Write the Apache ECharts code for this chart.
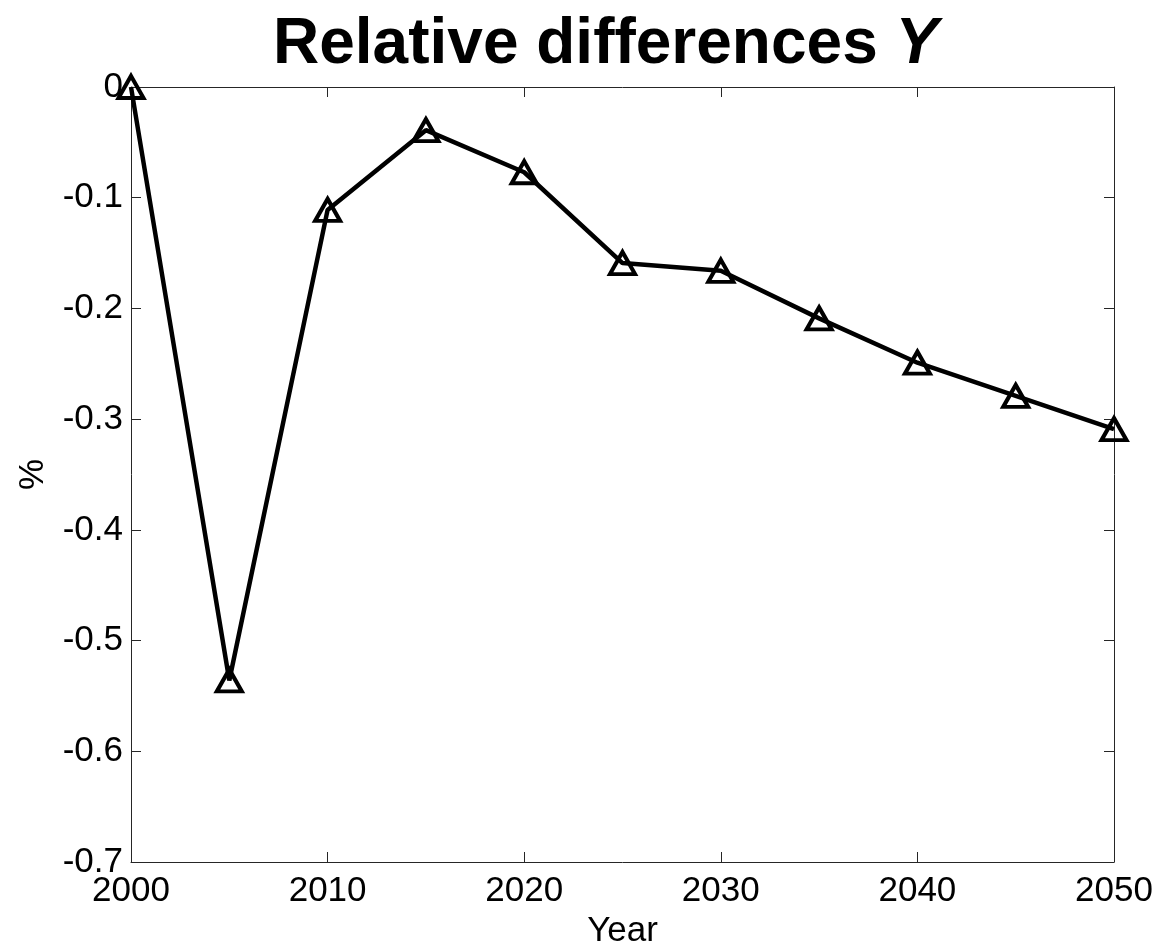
<!DOCTYPE html>
<html>
<head>
<meta charset="utf-8">
<script src="https://cdn.jsdelivr.net/npm/echarts@6/dist/echarts.min.js"></script>
<style>
html,body{margin:0;padding:0;background:#fff;}
#chart{width:1159px;height:948px;}
</style>
</head>
<body>
<div id="chart"></div>
<script>
const years = [2000, 2005, 2010, 2015, 2020, 2025, 2030, 2035, 2040, 2045, 2050];
const relDiff = [0, -0.536, -0.111, -0.039, -0.077, -0.159, -0.166, -0.209, -0.249, -0.279, -0.309];
const xTicks = [2000, 2010, 2020, 2030, 2040, 2050];
const yTicks = [0, -0.1, -0.2, -0.3, -0.4, -0.5, -0.6, -0.7];

const FONT = '"Liberation Sans", Arial, sans-serif';
const chart = echarts.init(document.getElementById('chart'));

function axisLine() { return {show: true, onZero: false, lineStyle: {color: '#262626', width: 1}}; }
function tick() { return {show: true, inside: true, length: 10, lineStyle: {color: '#262626', width: 1}}; }

chart.setOption({
  animation: false,
  backgroundColor: '#fff',
  title: {
    text: '{b|Relative differences }{i|Y}',
    left: 268,
    top: 8,
    textStyle: {
      rich: {
        b: {fontFamily: FONT, fontWeight: 'bold', fontSize: 64, color: '#000'},
        i: {fontFamily: FONT, fontWeight: 'bold', fontStyle: 'italic', fontSize: 64, color: '#000'}
      }
    }
  },
  grid: {left: 131, right: 45, top: 87, bottom: 86, containLabel: false, outerBoundsMode: 'none', show: false},
  xAxis: [{
    type: 'value', position: 'bottom',
    min: xTicks[0], max: xTicks[xTicks.length - 1], interval: 10,
    name: 'Year', nameLocation: 'middle', nameGap: 52,
    nameTextStyle: {fontFamily: FONT, fontSize: 35, color: '#000'},
    axisLine: axisLine(), axisTick: tick(),
    axisLabel: {fontFamily: FONT, fontSize: 35, color: '#000', margin: 12,
      formatter: v => xTicks.includes(v) ? String(v) : ''},
    splitLine: {show: false}
  }, {
    type: 'value', position: 'top',
    min: xTicks[0], max: xTicks[xTicks.length - 1], interval: 10,
    axisLine: axisLine(), axisTick: tick(), axisLabel: {show: false}, splitLine: {show: false}
  }],
  yAxis: [{
    type: 'value', position: 'left',
    min: yTicks[yTicks.length - 1], max: yTicks[0], interval: 0.1,
    name: '%', nameLocation: 'middle', nameGap: 80,
    nameTextStyle: {fontFamily: FONT, fontSize: 35, color: '#000'},
    axisLine: axisLine(), axisTick: tick(),
    axisLabel: {fontFamily: FONT, fontSize: 35, color: '#000', margin: 8,
      formatter: v => { const r = Math.round(v * 10) / 10; return r === 0 ? '0' : String(r); }},
    splitLine: {show: false}
  }, {
    type: 'value', position: 'right',
    min: yTicks[yTicks.length - 1], max: yTicks[0], interval: 0.1,
    axisLine: axisLine(), axisTick: tick(), axisLabel: {show: false}, splitLine: {show: false}
  }],
  series: [{
    type: 'line',
    xAxisIndex: 0, yAxisIndex: 0,
    data: years.map((y, i) => [y, relDiff[i]]),
    symbol: 'triangle',
    symbolSize: [25, 22],
    showSymbol: true,
    clip: false,
    lineStyle: {color: '#000', width: 4.5},
    itemStyle: {color: 'rgba(0,0,0,0)', borderColor: '#000', borderWidth: 4},
    z: 10
  }]
});
</script>
</body>
</html>
